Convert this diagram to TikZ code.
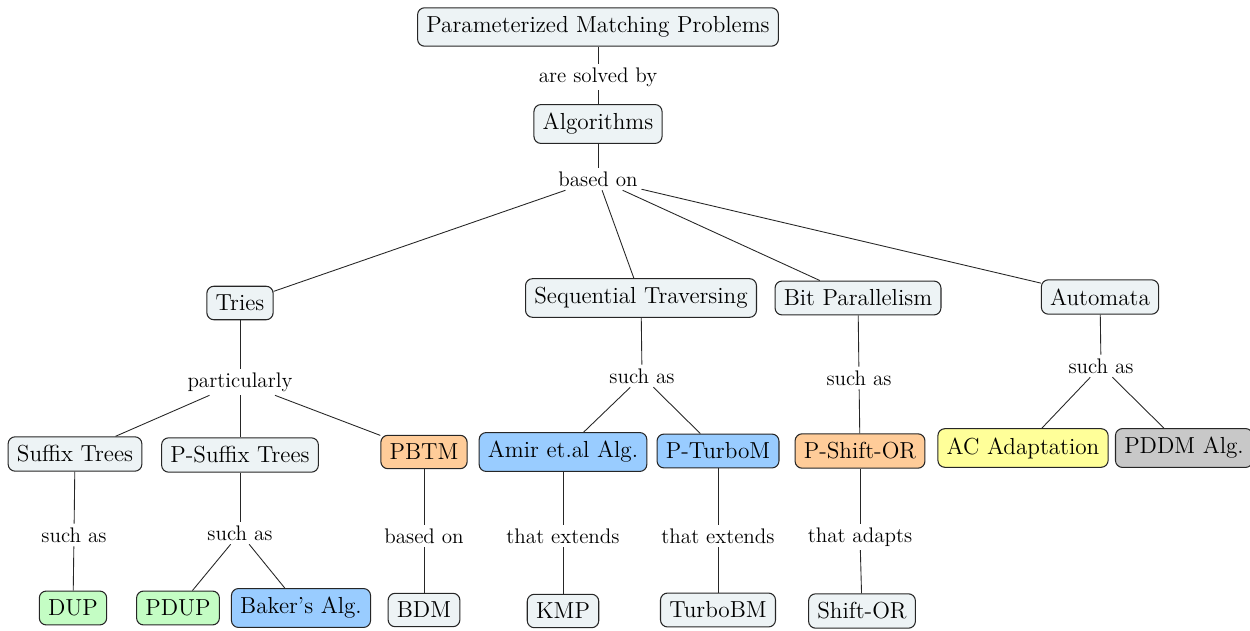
\documentclass[tikz,border=0pt]{standalone}
\usepackage{xcolor}
\definecolor{nlight}{HTML}{EDF3F5}
\definecolor{ngreen}{HTML}{C4FDC4}
\definecolor{nblue}{HTML}{99CCFF}
\definecolor{norange}{HTML}{FFCC99}
\definecolor{nyellow}{HTML}{FFFF99}
\definecolor{ngray}{HTML}{C8C8C8}
\tikzset{
  box/.style={draw=black!85, rounded corners=4pt, line width=0.6pt, fill=nlight, font=\fontsize{13.2}{16}\selectfont, inner xsep=5pt, inner ysep=5pt},
  lbl/.style={font=\large, inner sep=2pt, fill=white},
  conn/.style={line width=0.5pt, black!85},
}
\begin{document}
\begin{tikzpicture}[x=0.02cm,y=-0.02cm]
\useasboundingbox (0,0) rectangle (1250,631);
% nodes
\node[box] (pmp) at (598,27) {Parameterized Matching Problems};
\node[lbl] (l1) at (598,77) {are solved by};
\node[box] (alg) at (598,124) {Algorithms};
\node[lbl] (l2) at (598,179) {based on};
\node[box] (tries) at (240,303) {Tries};
\node[box] (seq) at (641,298) {Sequential Traversing};
\node[box] (bit) at (858,298) {Bit Parallelism};
\node[box] (aut) at (1100,297) {Automata};
\node[lbl] (l3) at (240,382) {particularly};
\node[box] (st) at (75,454) {Suffix Trees};
\node[box] (pst) at (240,455) {P-Suffix Trees};
\node[box, fill=norange] (pbtm) at (424,452) {PBTM};
\node[lbl] (l4) at (642,376) {such as};
\node[box, fill=nblue] (amir) at (563,452) {Amir et.al Alg.};
\node[box, fill=nblue] (ptb) at (718,451) {P-TurboM};
\node[lbl] (l5) at (859,378) {such as};
\node[box, fill=norange] (pso) at (860,451) {P-Shift-OR};
\node[lbl] (l6) at (1101,366) {such as};
\node[box, fill=nyellow] (ac) at (1023,448) {AC Adaptation};
\node[box, fill=ngray] (pddm) at (1184,448) {PDDM Alg.};
\node[lbl] (l7) at (74,535) {such as};
\node[box, fill=ngreen] (dup) at (73,608) {DUP};
\node[lbl] (l8) at (240,533) {such as};
\node[box, fill=ngreen] (pdup) at (178,608) {PDUP};
\node[box, fill=nblue] (baker) at (301,608) {Baker's Alg.};
\node[lbl] (l9) at (424,536) {based on};
\node[box] (bdm) at (424,610) {BDM};
\node[lbl] (l10) at (563,536) {that extends};
\node[box] (kmp) at (563,611) {KMP};
\node[lbl] (l11) at (718,536) {that extends};
\node[box] (tbm) at (718,610) {TurboBM};
\node[lbl] (l12) at (860,537) {that adapts};
\node[box] (so) at (862,611) {Shift-OR};
% connectors
\draw[conn] (pmp) -- (l1);
\draw[conn] (l1) -- (alg);
\draw[conn] (alg) -- (l2);
\draw[conn] (l2) -- (tries);
\draw[conn] (l2) -- (seq);
\draw[conn] (l2) -- (bit);
\draw[conn] (l2) -- (aut);
\draw[conn] (tries) -- (l3);
\draw[conn] (l3) -- (st);
\draw[conn] (l3) -- (pst);
\draw[conn] (l3) -- (pbtm);
\draw[conn] (seq) -- (l4);
\draw[conn] (l4) -- (amir);
\draw[conn] (l4) -- (ptb);
\draw[conn] (bit) -- (l5);
\draw[conn] (l5) -- (pso);
\draw[conn] (aut) -- (l6);
\draw[conn] (l6) -- (ac);
\draw[conn] (l6) -- (pddm);
\draw[conn] (st) -- (l7);
\draw[conn] (l7) -- (dup);
\draw[conn] (pst) -- (l8);
\draw[conn] (l8) -- (pdup);
\draw[conn] (l8) -- (baker);
\draw[conn] (pbtm) -- (l9);
\draw[conn] (l9) -- (bdm);
\draw[conn] (amir) -- (l10);
\draw[conn] (l10) -- (kmp);
\draw[conn] (ptb) -- (l11);
\draw[conn] (l11) -- (tbm);
\draw[conn] (pso) -- (l12);
\draw[conn] (l12) -- (so);
\end{tikzpicture}
\end{document}
